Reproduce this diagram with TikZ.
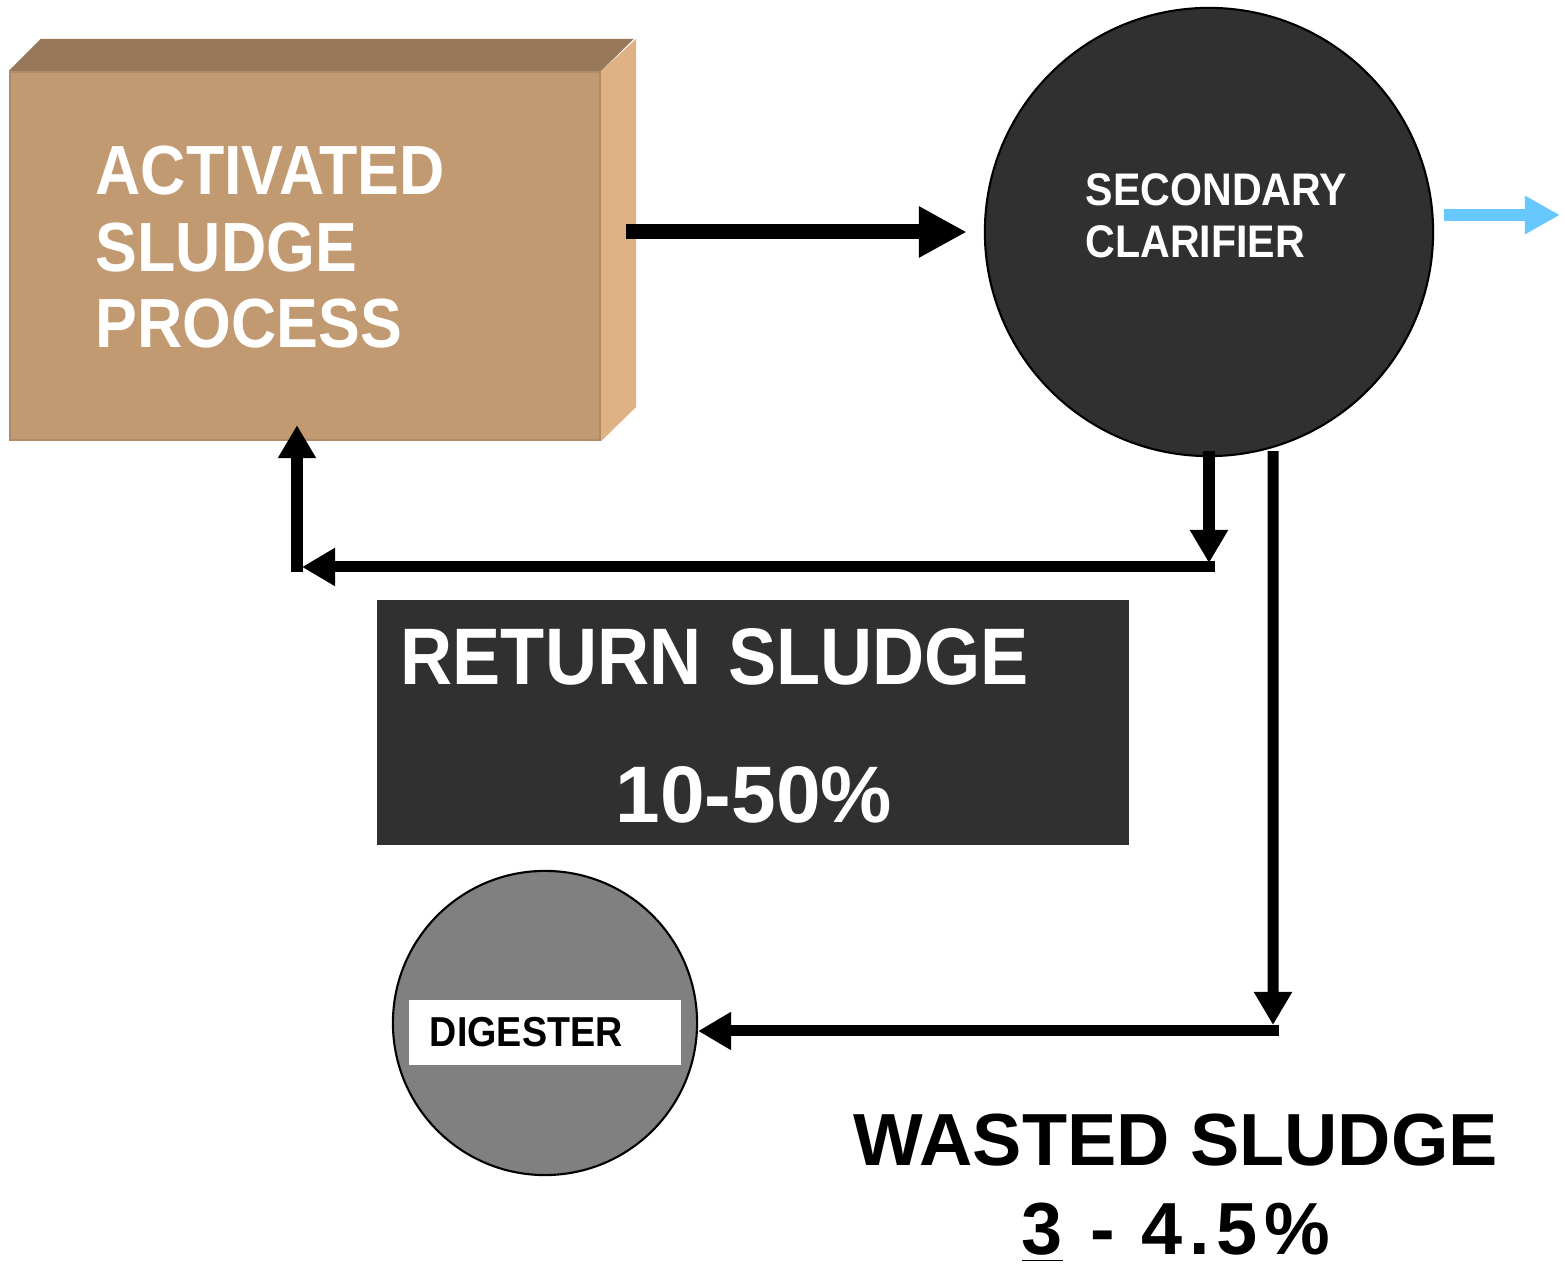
\documentclass[tikz,border=0pt]{standalone}
\usepackage{fontspec}
\setmainfont{Liberation Sans}[FakeStretch=0.9]
\newfontfamily\widesans{Liberation Sans}
\newfontfamily\spacedsans{Liberation Sans}[LetterSpace=9]
\usetikzlibrary{arrows.meta,calc}

\definecolor{boxfront}{RGB}{194,154,114}
\definecolor{boxtop}{RGB}{151,120,90}
\definecolor{boxside}{RGB}{223,178,134}
\definecolor{boxedge}{RGB}{176,140,104}
\definecolor{darkfill}{RGB}{48,48,48}
\definecolor{digfill}{RGB}{128,128,128}
\definecolor{effblue}{RGB}{102,200,255}

\begin{document}
\begin{tikzpicture}[x=0.01cm,y=-0.01cm,
  feed/.style={line width=0.15cm,-{Triangle[length=0.48cm,width=0.48cm]}},
  ret/.style={line width=0.11cm,-{Triangle[length=0.33cm,width=0.36cm]}},
  effluent/.style={draw=effblue,line width=0.12cm,-{Triangle[length=0.35cm,width=0.36cm]}},
  tank/.style={circle,draw=black,line width=0.6pt,inner sep=0pt},
  whitelbl/.style={text=white,inner sep=0pt,align=left}]
\useasboundingbox (0,0) rectangle (1565,1267);

% aeration basin drawn as a block
\node[draw=boxedge,line width=0.6pt,fill=boxfront,minimum width=5.9cm,minimum height=3.68cm,inner sep=0pt] (asp) at (305,256) {};
\fill[boxtop] (asp.north west) -- ++(32,-32) -- ++(593,0) -- (asp.north east) -- cycle;
\fill[boxside] (asp.north east) -- ++(35,-32) -- ++(0,368) -- (asp.south east) -- cycle;
\node[whitelbl,anchor=base west,font=\bfseries\fontsize{19.8}{21.8}\selectfont] (asptext) at (95,348) {ACTIVATED\\SLUDGE\\PROCESS};

% clarifier
\node[tank,fill=darkfill,minimum size=4.48cm] (clar) at (1209,232) {};
\node[whitelbl,anchor=base west,font=\bfseries\fontsize{13}{15}\selectfont] (clartext) at (1085,258) {SECONDARY\\CLARIFIER};

% return sludge label
\node[fill=darkfill,minimum width=7.52cm,minimum height=2.45cm,inner sep=0pt] (retbox) at (753,722.5) {};
\node[whitelbl,anchor=base west,text width=7.06cm,font=\bfseries\fontsize{22.8}{26}\selectfont] (rettext) at (400,685) {RETURN SLUDGE\\[13pt]\hspace*{\fill}{\widesans 10-50\%}\hspace*{\fill}};

% digester
\node[tank,fill=digfill,minimum size=3.04cm] (dig) at (545,1023) {};
\node[fill=white,minimum width=2.72cm,minimum height=0.65cm,text width=2.30cm,inner xsep=0.21cm,align=left,font=\bfseries\fontsize{11.9}{14}\selectfont] (diglbl) at (545,1032.5) {DIGESTER};

% wasted sludge label
\node[align=center,anchor=base,inner sep=0pt,font=\widesans\bfseries\fontsize{21}{25.5}\selectfont] (wastetext) at (1176,1255) {WASTED SLUDGE\\{\spacedsans\bfseries\underline{3} - 4.5\%}};

% flows
\draw[feed] ($(asp.east |- clar.west)+(25,0)$) -- ([xshift=-0.17cm]clar.west);
\coordinate (effl) at (1560,215);
\draw[effluent] ($(clar.east |- effl)+(10,0)$) -- (effl);

\coordinate (rc) at (1215,567);
\coordinate (rl) at (297,567);
\draw[ret] ([yshift=0.06cm]clar.south) -- ([yshift=0.04cm]clar.south |- rc);
\draw[ret] (rc) -- ([xshift=0.05cm]rl);
\draw[ret,line cap=rect] (rl) -- ([yshift=0.16cm]rl |- asp.south);

\coordinate (wc) at (1273,1031);
\draw[ret] ([shift={(0.64cm,0.06cm)}]clar.south) -- ([yshift=0.06cm]wc);
\draw[ret,line cap=rect] (wc) -- (dig.east |- wc);
\end{tikzpicture}
\end{document}
